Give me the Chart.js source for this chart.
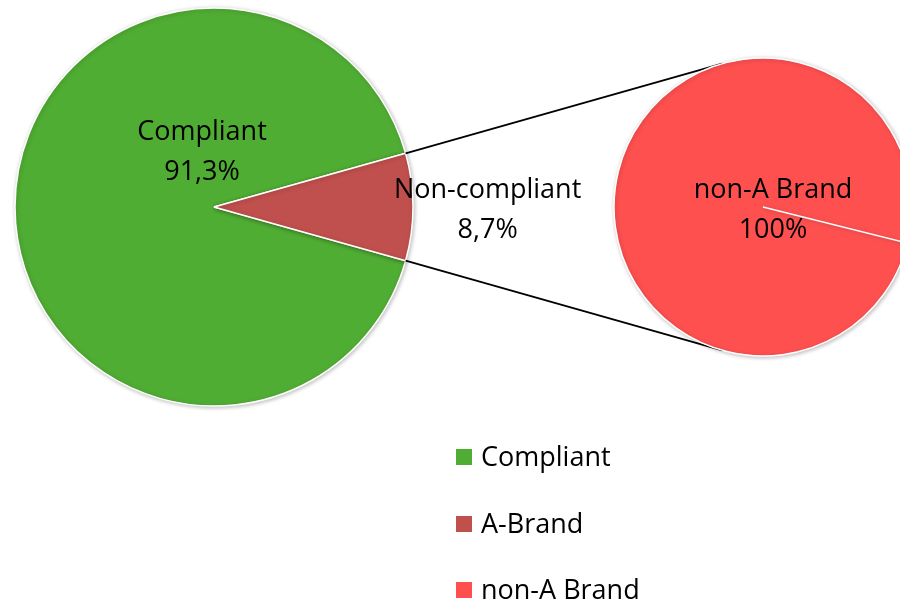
<!DOCTYPE html>
<html lang="en">
<head>
<meta charset="UTF-8">
<title>Compliance pie of pie</title>
<style>
    html, body { margin: 0; padding: 0; background: #fff; overflow: hidden; }
    #wrap { position: relative; width: 900px; height: 603px; }
    #wrap canvas { position: absolute; left: 0; top: 0; }
    #legend { position: absolute; left: 456px; top: 438px; margin: 0; padding: 0; list-style: none;
              font-family: "Open Sans", sans-serif; font-size: 27px; color: #000; }
    #legend li { height: 66.5px; display: flex; align-items: flex-start; line-height: 36px; }
    #legend span.box { width: 16px; height: 16px; display: inline-block; margin: 11px 9px 0 0; }
</style>
<script src="https://cdn.jsdelivr.net/npm/chart.js"></script>
</head>
<body>
<div id="wrap">
    <canvas id="mainPie" width="900" height="603"></canvas>
    <canvas id="subPie" width="900" height="603"></canvas>
    <ul id="legend"></ul>
</div>
<script>
    // data
    const mainLabels = ['Compliant', 'Non-compliant'];
    const mainValues = [91.3, 8.7];
    const mainColors = ['#50AD33', '#C0504D'];

    const subLabels = ['A-Brand', 'non-A Brand'];
    const subValues = [0, 100];
    const subColors = ['#C0504D', '#FF5050'];

    const legendLabels = ['Compliant', 'A-Brand', 'non-A Brand'];
    const legendColors = ['#50AD33', '#C0504D', '#FF5050'];

    const FONT = '"Open Sans", sans-serif';

    function pct(v) {
        return (Math.round(v * 10) / 10).toString().replace('.', ',') + '%';
    }

    function drawLabel(ctx, lines, x, y) {
        ctx.save();
        ctx.fillStyle = '#000';
        ctx.font = '27px ' + FONT;
        ctx.textAlign = 'center';
        ctx.textBaseline = 'middle';
        ctx.fillText(lines[0], x, y - 19);
        ctx.fillText(lines[1], x, y + 21);
        ctx.restore();
    }

    const shadowPlugin = {
        id: 'shadow',
        beforeDatasetsDraw(chart) {
            const ctx = chart.ctx;
            ctx.save();
            ctx.shadowColor = 'rgba(0,0,0,0.25)';
            ctx.shadowBlur = 4;
            ctx.shadowOffsetX = 1;
            ctx.shadowOffsetY = 1;
        },
        afterDatasetsDraw(chart) {
            chart.ctx.restore();
        }
    };

    const mainLabelPlugin = {
        id: 'mainLabels',
        afterDraw(chart) {
            const arcs = chart.getDatasetMeta(0).data;
            const cx = arcs[0].x, cy = arcs[0].y, r = arcs[0].outerRadius;
            const total = mainValues.reduce((a, b) => a + b, 0);
            drawLabel(chart.ctx, [mainLabels[0], pct(mainValues[0] / total * 100)], cx - 12, cy - 56);
            drawLabel(chart.ctx, [mainLabels[1], pct(mainValues[1] / total * 100)], cx + r * 1.375, cy + 2);
        }
    };

    // first pie: the small slice points right (east)
    const smallShare = mainValues[1] / (mainValues[0] + mainValues[1]) * 360;
    const mainRotation = 90 - smallShare / 2 - (360 - smallShare);

    const mainChart = new Chart(document.getElementById('mainPie'), {
        type: 'pie',
        data: {
            labels: mainLabels,
            datasets: [{
                data: mainValues,
                backgroundColor: mainColors,
                borderColor: '#fff',
                borderWidth: 1.5
            }]
        },
        options: {
            responsive: false,
            animation: false,
            rotation: mainRotation,
            radius: 199,
            layout: { padding: { left: 0, top: 0, right: 472, bottom: 189 } },
            plugins: { legend: { display: false }, tooltip: { enabled: false } }
        },
        plugins: [shadowPlugin, mainLabelPlugin]
    });

    // connector lines from the small slice to the second pie (tangents)
    const connectorPlugin = {
        id: 'connectors',
        beforeDatasetsDraw(chart) {
            const slice = mainChart.getDatasetMeta(0).data[1];
            const sub = chart.getDatasetMeta(0).data[1];
            const cx = sub.x, cy = sub.y, r = sub.outerRadius;
            const ctx = chart.ctx;
            ctx.save();
            ctx.strokeStyle = '#000';
            ctx.lineWidth = 1.8;
            [[slice.startAngle, -1], [slice.endAngle, 1]].forEach(([a, side]) => {
                const px = slice.x + Math.cos(a) * slice.outerRadius;
                const py = slice.y + Math.sin(a) * slice.outerRadius;
                const d = Math.hypot(cx - px, cy - py);
                const base = Math.atan2(cy - py, cx - px);
                const dir = base + side * Math.asin(r / d);
                const len = Math.sqrt(d * d - r * r);
                ctx.beginPath();
                ctx.moveTo(px, py);
                ctx.lineTo(px + Math.cos(dir) * len, py + Math.sin(dir) * len);
                ctx.stroke();
            });
            ctx.restore();
        }
    };

    const subLabelPlugin = {
        id: 'subLabels',
        afterDraw(chart) {
            const arc = chart.getDatasetMeta(0).data[1];
            const total = subValues.reduce((a, b) => a + b, 0);
            drawLabel(chart.ctx, [subLabels[1], pct(subValues[1] / total * 100)], arc.x + 10, arc.y + 2);
        }
    };

    new Chart(document.getElementById('subPie'), {
        type: 'pie',
        data: {
            labels: subLabels,
            datasets: [{
                data: subValues,
                backgroundColor: subColors,
                borderColor: '#fff',
                borderWidth: 1.5
            }]
        },
        options: {
            responsive: false,
            animation: false,
            rotation: 104,
            radius: 149,
            layout: { padding: { left: 626, top: 0, right: 0, bottom: 189 } },
            plugins: { legend: { display: false }, tooltip: { enabled: false } }
        },
        plugins: [connectorPlugin, shadowPlugin, subLabelPlugin]
    });

    // legend
    const legend = document.getElementById('legend');
    legendLabels.forEach((name, i) => {
        const li = document.createElement('li');
        li.innerHTML = '<span class="box" style="background:' + legendColors[i] + '"></span>' + name;
        legend.appendChild(li);
    });
</script>
</body>
</html>
